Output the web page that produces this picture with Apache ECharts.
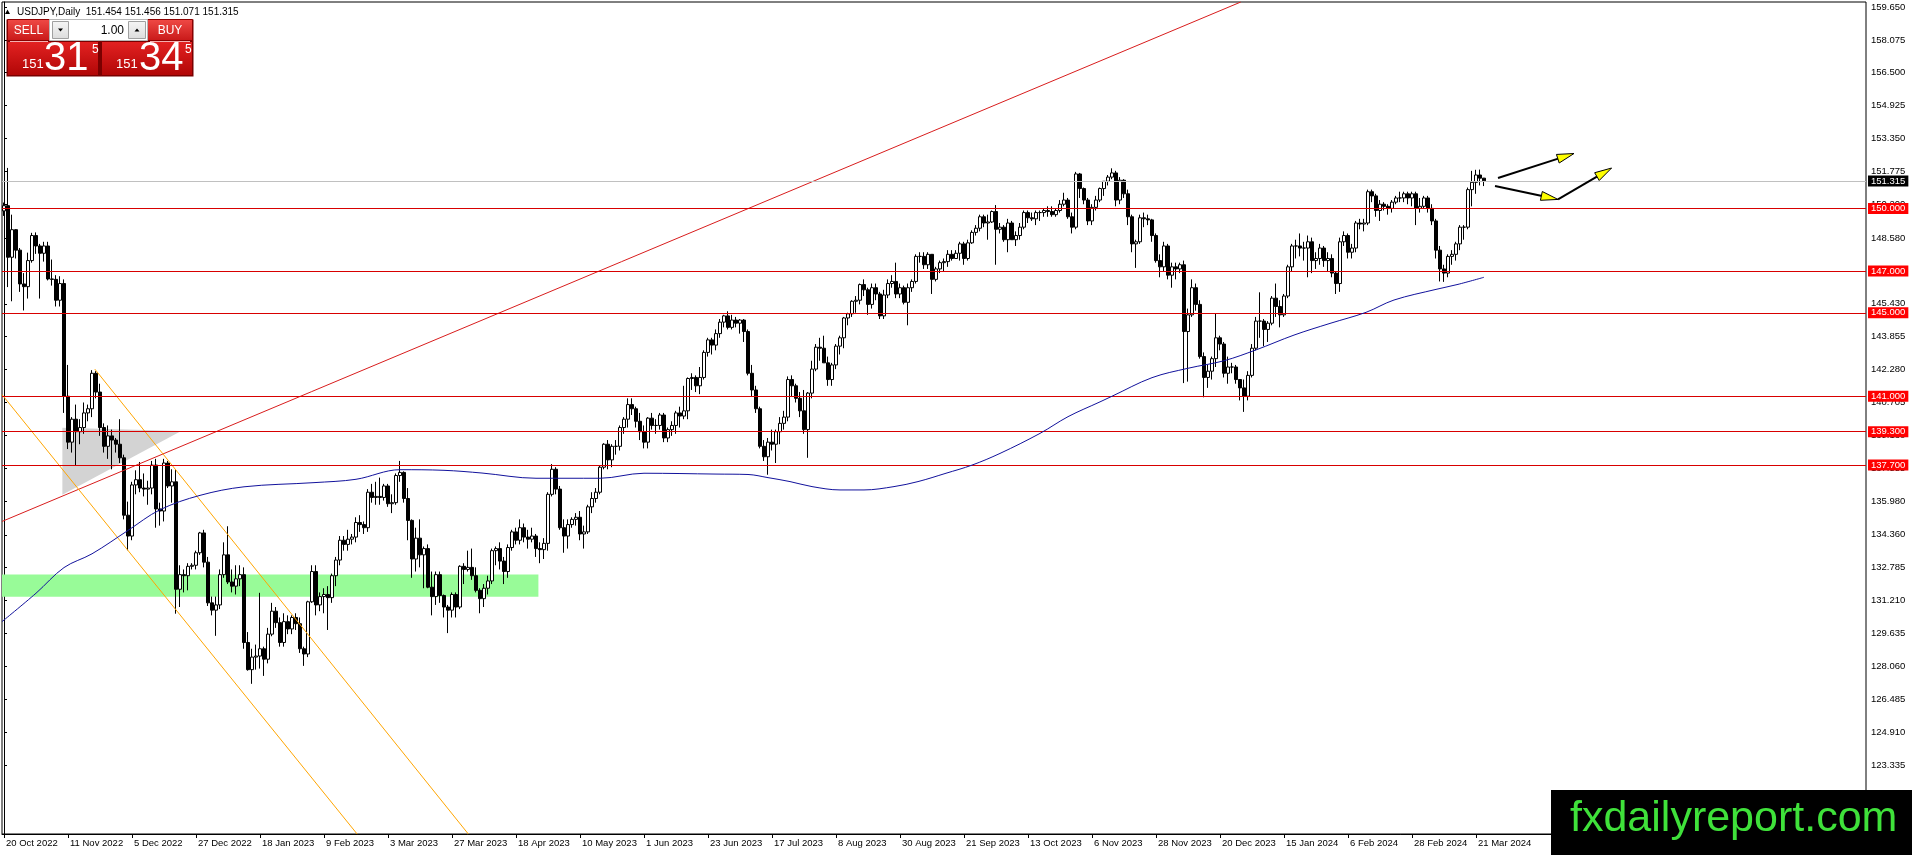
<!DOCTYPE html>
<html><head><meta charset="utf-8">
<script src="https://cdn.jsdelivr.net/npm/echarts@6/dist/echarts.min.js"></script>
<style>html,body{margin:0;padding:0;background:#fff;overflow:hidden}#c{width:1912px;height:855px}</style>
</head><body><div id="c"></div>
<script>
// ---------- DATA ----------
const startDate = [2022, 9, 20];              // 20 Oct 2022 (UTC y, m0, d)
const missingDates = ['2023-12-25', '2024-01-01'];
const slotCount = 466;                          // bar slots across the plot (incl. empty future area)
const monthNames = ['Jan','Feb','Mar','Apr','May','Jun','Jul','Aug','Sep','Oct','Nov','Dec'];

// daily bars: [open, high, low, close]
const bars = [
[149.88,150.28,149.64,150.13],[150.13,151.94,146.23,147.66],[147.66,149.70,145.55,148.98],[148.98,149.00,147.60,148.00],[148.00,148.10,146.00,146.38],
[146.38,146.90,145.11,146.25],[146.25,147.88,145.68,147.50],[147.50,148.83,147.40,148.70],[148.70,148.85,147.82,148.20],[148.20,148.30,145.68,147.85],
[147.85,148.40,147.45,148.20],[148.20,148.40,146.55,146.62],[146.62,147.55,146.30,146.60],[146.60,146.80,145.30,145.60],[145.60,146.75,145.30,146.40],
[146.40,146.60,140.20,141.00],[141.00,142.50,138.47,138.80],[138.80,140.00,138.30,139.90],[139.90,140.60,137.67,139.30],[139.30,139.90,138.70,139.50],
[139.50,140.70,139.20,140.20],[140.20,140.60,139.80,140.40],[140.40,142.25,140.00,142.10],[142.10,142.20,140.90,141.20],[141.20,141.60,139.10,139.50],
[139.50,139.70,138.30,138.60],[138.60,139.60,138.00,139.10],[139.10,139.40,137.50,138.90],[138.90,139.00,138.30,138.70],[138.70,139.90,137.80,138.05],
[138.05,138.20,135.10,135.30],[135.30,135.95,133.62,134.30],[134.30,136.90,134.10,136.75],[136.75,137.45,136.30,137.00],[137.00,137.85,136.40,136.60],
[136.60,137.30,136.20,136.55],[136.55,136.95,135.80,136.60],[136.60,137.90,136.30,137.70],[137.70,138.00,134.70,135.60],[135.60,135.90,134.80,135.50],
[135.50,138.00,135.00,137.80],[137.80,137.90,136.60,136.70],[136.70,137.50,135.90,136.90],[136.90,137.50,130.58,131.75],[131.75,132.90,130.90,132.45],
[132.45,132.70,131.60,132.40],[132.40,133.00,131.70,132.85],[132.85,133.00,132.70,132.90],[132.90,133.60,132.70,133.50],[133.50,134.50,133.40,134.45],
[134.45,134.60,132.80,133.05],[133.05,133.30,130.95,131.10],[131.10,131.40,130.50,130.75],[130.75,131.40,129.52,131.00],[131.00,132.70,130.80,132.45],
[132.45,134.00,132.30,133.40],[133.40,134.77,132.00,132.10],[132.10,132.70,131.60,131.90],[131.90,132.90,131.50,132.25],[132.25,132.90,131.90,132.45],
[132.45,132.80,128.90,129.20],[129.20,129.70,127.85,127.90],[127.90,128.90,127.22,128.50],[128.50,129.10,127.90,128.55],[128.55,131.58,127.95,128.90],
[128.90,129.00,127.60,128.40],[128.40,129.90,128.20,129.60],[129.60,131.10,129.50,130.70],[130.70,130.90,129.90,130.15],[130.15,130.40,129.00,129.20],
[129.20,130.60,129.00,130.20],[130.20,130.50,129.60,129.85],[129.85,130.50,129.60,130.40],[130.40,130.60,129.80,130.10],[130.10,130.40,128.70,128.90],
[128.90,129.00,128.08,128.65],[128.65,131.20,128.50,131.15],[131.15,132.90,131.10,132.60],[132.60,132.90,130.50,131.00],[131.00,131.60,130.70,131.40],
[131.40,131.80,130.60,131.50],[131.50,131.90,129.80,131.35],[131.35,132.50,131.10,132.40],[132.40,133.30,131.90,133.15],[133.15,134.30,132.90,134.10],
[134.10,134.30,133.60,133.90],[133.90,134.60,133.60,134.15],[134.15,134.40,133.90,134.25],[134.25,135.20,134.00,134.95],[134.95,135.30,134.50,134.85],
[134.85,135.00,134.40,134.70],[134.70,136.55,134.50,136.40],[136.40,136.80,135.90,136.15],[136.15,136.90,135.80,136.20],[136.20,137.10,135.80,136.15],
[136.15,136.80,136.00,136.70],[136.70,136.80,135.70,135.85],[135.85,136.30,135.40,135.90],[135.90,137.30,135.80,137.20],[137.20,137.90,136.90,137.35],
[137.35,137.40,135.90,136.10],[136.10,136.60,134.10,135.05],[135.05,135.10,132.30,133.20],[133.20,134.70,132.60,134.20],[134.20,135.10,132.80,133.40],
[133.40,133.80,131.80,133.70],[133.70,133.90,131.80,131.85],[131.85,132.60,130.50,131.40],[131.40,132.60,131.00,132.45],[132.45,132.60,131.10,131.45],
[131.45,131.50,130.40,130.90],[130.90,131.00,129.65,130.75],[130.75,131.60,130.40,131.50],[131.50,131.60,130.40,130.90],[130.90,132.90,130.80,132.85],
[132.85,133.00,132.00,132.70],[132.70,133.60,132.60,132.80],[132.80,133.70,132.20,132.40],[132.40,132.80,131.60,131.70],[131.70,131.80,130.60,131.30],
[131.30,132.00,130.90,131.80],[131.80,132.40,131.50,132.15],[132.15,133.70,132.00,133.60],[133.60,133.80,132.90,133.70],[133.70,134.00,132.70,133.10],
[133.10,133.30,132.00,132.60],[132.60,133.90,132.30,133.75],[133.75,134.60,133.60,134.50],[134.50,134.70,133.90,134.10],[134.10,135.10,133.90,134.70],
[134.70,134.90,134.00,134.25],[134.25,134.60,133.70,134.15],[134.15,134.70,134.00,134.30],[134.30,134.40,133.30,133.70],[133.70,134.00,133.00,133.65],
[133.65,134.20,133.20,133.95],[133.95,136.40,133.60,136.30],[136.30,137.75,136.20,137.50],[137.50,137.60,136.30,136.55],[136.55,136.70,134.60,134.70],
[134.70,135.10,133.50,134.30],[134.30,135.10,133.70,134.85],[134.85,135.20,134.70,135.10],[135.10,135.40,134.80,135.20],[135.20,135.50,134.10,134.40],
[134.40,134.80,133.70,134.50],[134.50,135.80,134.40,135.70],[135.70,136.40,135.40,136.10],[136.10,136.60,135.90,136.40],[136.40,137.70,136.30,137.60],
[137.60,138.75,137.50,138.70],[138.70,138.90,137.50,137.95],[137.95,138.70,137.60,138.60],[138.60,138.90,138.20,138.60],[138.60,139.60,138.40,139.50],
[139.50,140.00,139.20,139.90],[139.90,140.90,139.50,140.60],[140.60,140.90,140.10,140.40],[140.40,140.50,139.50,139.80],[139.80,140.20,138.90,139.30],
[139.30,139.60,138.50,138.80],[138.80,140.00,138.50,139.95],[139.95,140.20,139.40,139.60],[139.60,139.90,139.20,139.60],[139.60,140.20,139.40,140.10],
[140.10,140.20,138.80,139.00],[139.00,139.50,138.80,139.40],[139.40,139.80,139.10,139.60],[139.60,140.30,139.20,140.20],[140.20,140.50,139.50,140.05],
[140.05,141.50,139.90,140.30],[140.30,141.90,139.90,141.85],[141.85,142.10,141.30,141.90],[141.90,142.00,141.20,141.50],[141.50,142.40,141.10,141.90],
[141.90,143.20,141.80,143.10],[143.10,143.80,142.90,143.70],[143.70,143.80,143.00,143.45],[143.45,144.20,143.20,144.00],[144.00,144.70,143.80,144.55],
[144.55,144.90,144.30,144.85],[144.85,145.07,144.20,144.30],[144.30,144.90,144.20,144.65],[144.65,144.80,144.30,144.50],[144.50,144.70,144.00,144.65],
[144.65,144.70,143.60,144.10],[144.10,144.20,142.00,142.10],[142.10,142.50,141.00,141.30],[141.30,141.50,140.20,140.40],[140.40,140.50,138.50,138.60],
[138.60,138.90,137.90,138.10],[138.10,139.00,137.24,138.80],[138.80,139.40,138.40,138.70],[138.70,139.40,137.80,139.30],[139.30,140.00,138.70,139.70],
[139.70,140.30,139.40,140.00],[140.00,141.95,139.80,141.80],[141.80,142.00,141.00,141.50],[141.50,141.60,140.70,140.90],[140.90,141.20,140.00,140.30],
[140.30,141.30,139.20,139.40],[139.40,141.20,138.05,141.15],[141.15,142.70,140.90,142.30],[142.30,143.50,142.20,143.35],[143.35,143.80,142.70,143.30],
[143.30,143.90,142.60,142.60],[142.60,142.90,141.50,141.80],[141.80,142.60,141.50,142.50],[142.50,143.50,142.30,143.40],[143.40,143.90,143.00,143.80],
[143.80,144.80,143.30,144.75],[144.75,145.00,144.40,144.95],[144.95,145.60,144.80,145.55],[145.55,145.80,145.00,145.60],[145.60,146.40,145.40,146.35],
[146.35,146.60,145.80,146.10],[146.10,146.20,144.90,145.40],[145.40,146.40,145.20,146.20],[146.20,146.40,145.60,145.90],[145.90,146.00,144.70,144.85],
[144.85,146.10,144.70,145.85],[145.85,146.60,145.70,146.40],[146.40,146.80,146.20,146.50],[146.50,147.40,145.70,145.90],[145.90,146.40,145.70,146.20],
[146.20,146.30,145.40,145.50],[145.50,146.40,144.40,146.20],[146.20,146.60,146.00,146.50],[146.50,147.80,146.40,147.70],[147.70,147.90,147.40,147.70],
[147.70,147.90,147.10,147.30],[147.30,147.90,147.10,147.80],[147.80,147.80,145.90,146.60],[146.60,147.20,146.50,147.10],[147.10,147.50,146.90,147.40],
[147.40,147.60,147.00,147.45],[147.45,148.00,147.20,147.80],[147.80,148.00,147.50,147.60],[147.60,148.00,147.60,147.85],[147.85,148.40,147.50,148.30],
[148.30,148.40,147.30,147.60],[147.60,148.50,147.50,148.35],[148.35,148.95,148.30,148.85],[148.85,149.20,148.70,149.05],[149.05,149.70,148.90,149.60],
[149.60,149.70,149.10,149.30],[149.30,149.70,148.50,149.35],[149.35,149.90,149.30,149.85],[149.85,150.16,147.30,149.00],[149.00,149.30,148.80,149.10],
[149.10,149.20,148.40,148.50],[148.50,149.50,147.90,149.30],[149.30,149.40,148.50,148.50],[148.50,148.90,148.20,148.70],[148.70,149.30,148.50,149.10],
[149.10,149.90,149.00,149.80],[149.80,149.90,149.30,149.55],[149.55,149.80,149.40,149.50],[149.50,149.90,149.20,149.80],[149.80,149.90,149.40,149.80],
[149.80,150.00,149.60,149.90],[149.90,150.10,149.60,149.85],[149.85,150.10,149.60,149.70],[149.70,150.00,149.60,149.90],[149.90,150.40,149.80,150.20],
[150.20,150.75,150.10,150.40],[150.40,150.50,149.50,149.60],[149.60,149.80,148.80,149.10],[149.10,151.75,149.00,151.65],[151.65,151.70,150.50,150.95],
[150.95,151.00,150.20,150.40],[150.40,150.50,149.20,149.40],[149.40,150.20,149.20,150.05],[150.05,150.60,149.90,150.40],[150.40,151.00,150.30,150.95],
[150.95,151.30,150.60,151.30],[151.30,151.60,151.10,151.50],[151.50,151.92,151.40,151.70],[151.70,151.80,150.10,150.40],[150.40,151.50,150.20,151.35],
[151.35,151.40,150.50,150.70],[150.70,150.90,149.20,149.60],[149.60,149.70,147.90,148.30],[148.30,148.50,147.15,148.40],[148.40,149.70,148.30,149.55],
[149.55,149.80,149.10,149.50],[149.50,149.70,149.20,149.45],[149.45,149.50,148.40,148.70],[148.70,148.80,147.40,147.50],[147.50,147.80,146.70,147.20],
[147.20,148.40,147.00,148.20],[148.20,148.30,146.60,146.80],[146.80,147.40,146.20,147.20],[147.20,147.40,146.60,147.10],[147.10,147.40,146.90,147.30],
[147.30,147.50,141.63,144.10],[144.10,145.20,141.70,144.90],[144.90,146.60,144.80,146.20],[146.20,146.40,145.10,145.40],[145.40,145.60,142.80,142.90],
[142.90,143.10,140.95,141.90],[141.90,142.50,141.40,142.20],[142.20,142.90,141.80,142.80],[142.80,144.95,142.40,143.80],[143.80,143.90,143.20,143.50],
[143.50,143.60,141.90,142.10],[142.10,142.90,141.60,142.40],[142.40,142.60,142.10,142.40],[142.40,142.50,141.60,141.80],[141.80,141.80,140.80,141.40],
[141.40,141.80,140.25,141.00],[141.00,142.20,140.80,142.00],[142.00,143.50,141.90,143.30],[143.30,144.80,143.20,144.60],[144.60,145.98,143.80,144.60],
[144.60,144.70,143.40,144.20],[144.20,144.60,143.60,144.50],[144.50,145.80,144.40,145.70],[145.70,146.40,144.80,145.30],[145.30,145.60,144.30,144.90],
[144.90,145.90,144.80,145.80],[145.80,147.30,145.70,147.20],[147.20,148.30,147.00,148.20],[148.20,148.50,147.60,148.20],[148.20,148.80,147.70,148.10],
[148.10,148.40,147.50,148.10],[148.10,148.70,146.70,148.40],[148.40,148.60,146.90,147.50],[147.50,147.90,147.10,147.60],[147.60,148.30,147.30,148.10],
[148.10,148.20,147.20,147.50],[147.50,147.90,147.00,147.60],[147.60,147.80,146.70,146.90],[146.90,147.00,145.90,146.40],[146.40,148.60,146.00,148.40],
[148.40,148.90,148.20,148.70],[148.70,148.80,147.60,147.90],[147.90,148.30,147.60,148.10],[148.10,149.40,147.90,149.30],[149.30,149.50,149.00,149.25],
[149.25,149.50,148.90,149.30],[149.30,150.90,149.20,150.80],[150.80,150.90,150.30,150.60],[150.60,150.70,149.60,149.90],[149.90,150.40,149.40,150.20],
[150.20,150.30,149.90,150.10],[150.10,150.20,149.70,150.00],[150.00,150.40,149.80,150.30],[150.30,150.60,150.20,150.50],[150.50,150.80,150.30,150.50],
[150.50,150.80,150.30,150.70],[150.70,150.80,150.20,150.50],[150.50,150.80,150.10,150.70],[150.70,150.80,149.20,150.00],[150.00,150.50,149.80,150.10],
[150.10,150.60,150.00,150.50],[150.50,150.60,149.80,150.00],[150.00,150.20,149.20,149.40],[149.40,149.50,147.60,148.00],[148.00,148.20,146.50,147.10],
[147.10,147.30,146.48,146.90],[146.90,147.80,146.70,147.70],[147.70,148.00,147.30,147.80],[147.80,148.40,147.50,148.30],[148.30,149.20,148.00,149.10],
[149.10,149.20,148.50,149.10],[149.10,151.00,149.00,150.90],[150.90,151.80,150.10,151.25],[151.25,151.85,150.70,151.60],[151.60,151.86,151.10,151.45],
[151.45,151.46,151.07,151.32]
];

// moving average: [bar index, value]
const maPoints = [
[-0.5,130.20],[8,131.56],[15,132.79],[22,133.45],[31,134.57],[39,135.56],[49,136.25],[60,136.66],[77.5,136.86],[88,137.02],
[99,137.48],[110,137.45],[119.5,137.32],[133,137.07],[149,137.07],[160,137.31],[178,137.27],[186,137.25],[191,137.10],[196.5,136.91],
[202,136.67],[209,136.51],[215,136.51],[222.5,136.67],[228.5,136.91],[235.5,137.31],[242,137.70],[249,138.26],[259,139.22],[266,140.02],
[274,140.73],[277,141.00],[287,141.89],[296,142.34],[305,142.70],[313,143.22],[322.5,143.93],[331.5,144.49],[340.5,145.02],[347.5,145.61],
[358,146.12],[363.5,146.36],[370,146.70]
];

const levels = [150.000, 147.000, 145.000, 141.000, 139.300, 137.700];
const currentPrice = 151.315;
const yTicks = [159.650,158.075,156.500,154.925,153.350,151.775,150.200,148.580,147.005,145.430,143.855,142.280,140.705,139.130,137.555,135.980,134.360,132.785,131.210,129.635,128.060,126.485,124.910,123.335];
const yMin = 120.024, yMax = 159.890;

const redTrend = [[-0.5,135.00],[309.2,159.89]];
const orangeLower = [[-0.5,141.08],[88.3,120.02]];
const orangeUpper = [[22.7,142.30],[116.1,120.02]];
const greenZone = [[-0.5,132.46],[133.6,132.46],[133.6,131.39],[-0.5,131.39]];
const grayTriangle = [[14.6,139.49],[44.3,139.33],[14.6,136.28]];
const arrows = [
  [373.5,151.457,392.5,152.63],
  [372.75,151.07,388.5,150.43],
  [388.5,150.43,401.9,151.935]
];

const headerText = 'USDJPY,Daily  151.454 151.456 151.071 151.315';
const sellQuote = ['151','31','5'];
const buyQuote = ['151','34','5'];
const lotText = '1.00';
const watermark = 'fxdailyreport.com';

// ---------- BUILD ----------
const categories = [];
(function(){
  const d = new Date(Date.UTC(startDate[0], startDate[1], startDate[2]));
  while (categories.length < slotCount) {
    const wd = d.getUTCDay();
    const iso = d.toISOString().slice(0,10);
    if (wd !== 0 && wd !== 6 && missingDates.indexOf(iso) < 0) {
      categories.push(d.getUTCDate() + ' ' + monthNames[d.getUTCMonth()] + ' ' + d.getUTCFullYear());
    }
    d.setUTCDate(d.getUTCDate() + 1);
  }
})();
const candleData = bars.map(b => [b[0], b[3], b[2], b[1]]);
const lastBar = bars.length - 1;
const showLabel = (i) => i % 16 === 0 && i <= lastBar;
const FONT = 'Liberation Sans, Arial, sans-serif';

function polygonSeries(points, color, z) {
  return {
    type: 'custom', xAxisIndex: 1, yAxisIndex: 0, z: z, silent: true,
    data: [points.reduce((a, p) => a.concat(p), [])],
    renderItem: function (params, api) {
      const pts = points.map((p, i) => api.coord([api.value(2 * i), api.value(2 * i + 1)]));
      return { type: 'polygon', shape: { points: pts }, style: { fill: color } };
    }
  };
}
function trendSeries(pts, color, z) {
  return { type: 'line', xAxisIndex: 1, yAxisIndex: 0, z: z, silent: true, data: pts,
    showSymbol: false, symbol: 'none', lineStyle: { color: color, width: 1 }, animation: false };
}

const levelMarks = levels.map(v => ({
  yAxis: v,
  lineStyle: { color: '#d80000', width: 1, type: 'solid' },
  label: { show: true, position: 'end', distance: 2, formatter: v.toFixed(3), color: '#fff',
    backgroundColor: '#ff0000', padding: [1, 3, 0, 3], fontSize: 9.5, fontFamily: FONT }
}));
levelMarks.push({
  yAxis: currentPrice,
  lineStyle: { color: '#c0c0c0', width: 1, type: 'solid' },
  label: { show: true, position: 'end', distance: 2, formatter: currentPrice.toFixed(3), color: '#fff',
    backgroundColor: '#000', padding: [1, 3, 0, 3], fontSize: 9.5, fontFamily: FONT }
});

const chart = echarts.init(document.getElementById('c'), null, { renderer: 'canvas' });

function redGrad(top, bottom) {
  return new echarts.graphic.LinearGradient(0, 0, 0, 1, [{ offset: 0, color: top }, { offset: 1, color: bottom }]);
}
function txt(x, y, s, size, color, align) {
  return { type: 'text', x: x, y: y, z: 101, silent: true,
    style: { text: s, fill: color, font: size + 'px ' + FONT, align: align || 'left', verticalAlign: 'middle',
      textAlign: align || 'left', textVerticalAlign: 'middle' } };
}

const graphics = [
  // header
  { type: 'polygon', z: 101, silent: true, shape: { points: [[5, 14], [10, 14], [7.5, 9.5]] }, style: { fill: '#000' } },
  txt(17, 12, headerText, 10, '#000'),
  // one-click panel
  { type: 'rect', z: 100, silent: true, shape: { x: 6.5, y: 19.5, width: 187, height: 57 }, style: { fill: '#7a0000' } },
  { type: 'rect', z: 100, silent: true, shape: { x: 7.5, y: 19.5, width: 42, height: 21 }, style: { fill: redGrad('#f04a46', '#c81818'), stroke: '#8a0000' } },
  { type: 'rect', z: 100, silent: true, shape: { x: 147.5, y: 19.5, width: 45, height: 21 }, style: { fill: redGrad('#f04a46', '#c81818'), stroke: '#8a0000' } },
  { type: 'rect', z: 100, silent: true, shape: { x: 49.5, y: 19.5, width: 98, height: 21 }, style: { fill: '#fff', stroke: '#b8b8b8' } },
  { type: 'rect', z: 101, silent: true, shape: { x: 52.5, y: 21.5, width: 16, height: 17 }, style: { fill: redGrad('#f6f6f6', '#dcdcdc'), stroke: '#a0a0a0' } },
  { type: 'rect', z: 101, silent: true, shape: { x: 128.5, y: 21.5, width: 17, height: 17 }, style: { fill: redGrad('#f6f6f6', '#dcdcdc'), stroke: '#a0a0a0' } },
  { type: 'polygon', z: 102, silent: true, shape: { points: [[58, 28.5], [63, 28.5], [60.5, 31.5]] }, style: { fill: '#000' } },
  { type: 'polygon', z: 102, silent: true, shape: { points: [[134.5, 31.5], [139.5, 31.5], [137, 28.5]] }, style: { fill: '#000' } },
  { type: 'rect', z: 100, silent: true, shape: { x: 7.5, y: 41.5, width: 91, height: 34 }, style: { fill: redGrad('#e42222', '#b00606'), stroke: '#7a0000' } },
  { type: 'rect', z: 100, silent: true, shape: { x: 101.5, y: 41.5, width: 91, height: 34 }, style: { fill: redGrad('#e42222', '#b00606'), stroke: '#7a0000' } },
  { type: 'line', z: 101, silent: true, shape: { x1: 10, y1: 41.5, x2: 48, y2: 41.5 }, style: { stroke: '#f4b0b0', lineWidth: 1 } },
  { type: 'line', z: 101, silent: true, shape: { x1: 150, y1: 41.5, x2: 190, y2: 41.5 }, style: { stroke: '#f4b0b0', lineWidth: 1 } },
  txt(28.5, 30.5, 'SELL', 12, '#fff', 'center'),
  txt(170, 30.5, 'BUY', 12, '#fff', 'center'),
  txt(124, 30.5, lotText, 12, '#000', 'right'),
  txt(22, 64, sellQuote[0], 13, '#fff'),
  txt(44, 59, sellQuote[1], 40, '#fff'),
  txt(92, 50, sellQuote[2], 12, '#fff'),
  txt(116, 64, buyQuote[0], 13, '#fff'),
  txt(139, 59, buyQuote[1], 40, '#fff'),
  txt(185, 50, buyQuote[2], 12, '#fff'),
  // watermark
  { type: 'rect', z: 100, silent: true, shape: { x: 1551, y: 790, width: 361, height: 65 }, style: { fill: '#000' } },
  txt(1570, 819, watermark, 43, '#3fe13a')
];

const option = {
  animation: false,
  backgroundColor: '#fff',
  textStyle: { fontFamily: FONT },
  grid: { left: 2, right: 46, top: 2, bottom: 21, show: true, borderColor: '#000', borderWidth: 1, backgroundColor: 'transparent', containLabel: false },
  xAxis: [
    { type: 'category', data: categories, boundaryGap: true,
      axisLine: { show: true, lineStyle: { color: '#000', width: 1 } },
      axisTick: { show: true, alignWithLabel: true, interval: showLabel, length: 4, lineStyle: { color: '#000' } },
      axisLabel: { show: true, interval: showLabel, align: 'left', color: '#000', fontSize: 9.5, fontFamily: FONT, margin: 4, padding: [0, 0, 0, 2] },
      splitLine: { show: false } },
    { type: 'value', min: -0.5, max: slotCount - 0.5, show: false, splitLine: { show: false } }
  ],
  yAxis: [
    { type: 'value', position: 'right', min: yMin, max: yMax,
      axisLine: { show: true, lineStyle: { color: '#000', width: 1 } },
      axisTick: { show: true, length: 3, customValues: yTicks, lineStyle: { color: '#000' } },
      axisLabel: { show: true, customValues: yTicks, formatter: v => Number(v).toFixed(3), color: '#000', fontSize: 9.5, fontFamily: FONT, margin: 5 },
      splitLine: { show: false } }
  ],
  series: [
    polygonSeries(greenZone, '#98fb98', 1),
    polygonSeries(grayTriangle, '#d3d3d3', 1),
    { type: 'candlestick', xAxisIndex: 0, yAxisIndex: 0, z: 3, data: candleData, barWidth: 3, silent: true,
      itemStyle: { color: '#ffffff', color0: '#000000', borderColor: '#000000', borderColor0: '#000000', borderWidth: 1 } },
    trendSeries(redTrend, '#d81c1c', 4),
    trendSeries(orangeLower, '#ffa500', 4),
    trendSeries(orangeUpper, '#ffa500', 4),
    { type: 'line', xAxisIndex: 1, yAxisIndex: 0, z: 5, silent: true, data: maPoints, smooth: 0.35,
      showSymbol: false, symbol: 'none', lineStyle: { color: '#12129c', width: 1 },
      markLine: { silent: true, symbol: 'none', animation: false, data: levelMarks } },
    { type: 'custom', xAxisIndex: 1, yAxisIndex: 0, z: 6, silent: true, data: arrows,
      encode: { x: [0, 2], y: [1, 3] },
      renderItem: function (params, api) {
        const p1 = api.coord([api.value(0), api.value(1)]);
        const p2 = api.coord([api.value(2), api.value(3)]);
        const dx = p2[0] - p1[0], dy = p2[1] - p1[1];
        const len = Math.sqrt(dx * dx + dy * dy) || 1;
        const ux = dx / len, uy = dy / len;
        const hl = 17, hw = 4.5;
        const bx = p2[0] - ux * hl, by = p2[1] - uy * hl;
        return { type: 'group', children: [
          { type: 'line', shape: { x1: p1[0], y1: p1[1], x2: bx + ux * 2, y2: by + uy * 2 }, style: { stroke: '#000', lineWidth: 2 } },
          { type: 'polygon', shape: { points: [[p2[0], p2[1]], [bx - uy * hw, by + ux * hw], [bx + uy * hw, by - ux * hw]] },
            style: { fill: '#ffff00', stroke: '#000', lineWidth: 1 } }
        ] };
      } }
  ],
  graphic: graphics
};
chart.setOption(option);
</script>
</body></html>
